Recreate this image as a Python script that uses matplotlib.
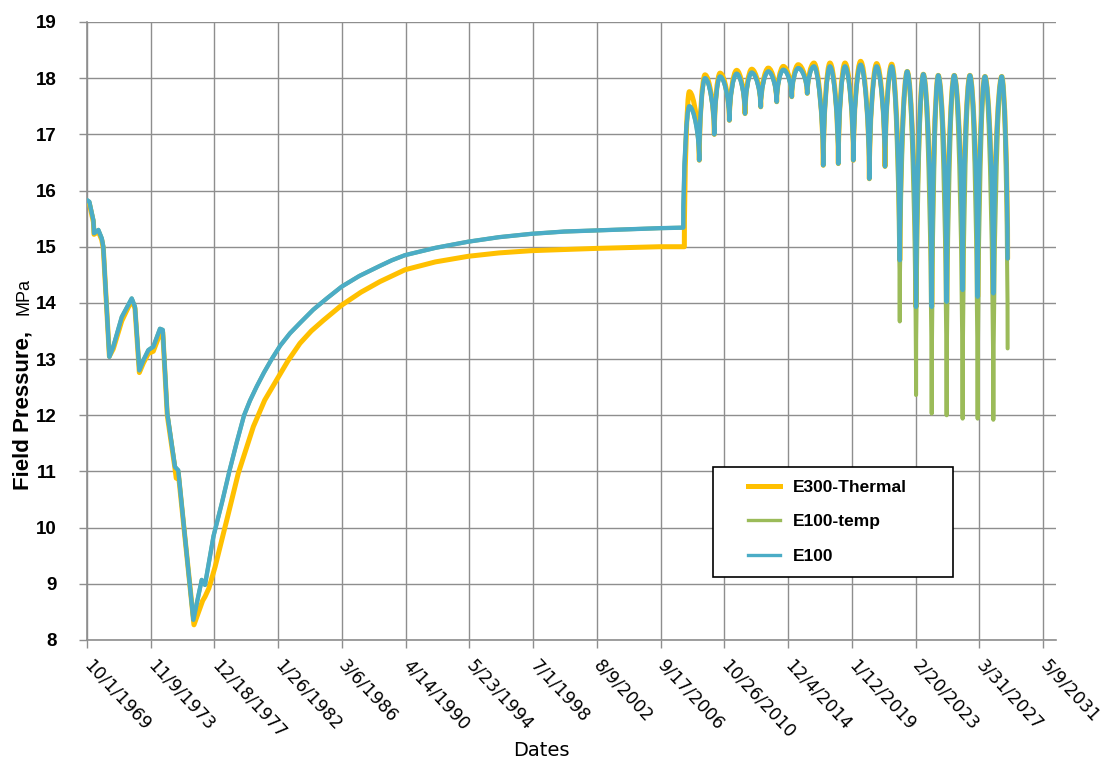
import matplotlib
matplotlib.use("Agg")
import matplotlib.pyplot as plt
import matplotlib.dates as mdates
from matplotlib.path import Path
from matplotlib.patches import PathPatch
from matplotlib.lines import Line2D
from matplotlib.legend_handler import HandlerLine2D
from datetime import datetime, timedelta
import pandas as pd

# ---------------- data (decimal years, MPa) ----------------
series_names = ["E300-Thermal", "E100-temp", "E100"]
series_colors = ["#FFC000", "#9BBB59", "#4BACC6"]

# E100 (and E100-temp) history before gas storage
e100_hist_years = [1969.75, 1969.90, 1970.16, 1970.20, 1970.48, 1970.70, 1970.80, 1971.19,
                   1971.44, 1971.99, 1972.63, 1972.84, 1973.12, 1973.38, 1973.70, 1974.02,
                   1974.45, 1974.63, 1974.92, 1975.42, 1975.63, 1976.60, 1977.14, 1977.35,
                   1977.90, 1978.45, 1978.92, 1979.40, 1979.87, 1980.25, 1980.68, 1981.15,
                   1981.65, 1982.20, 1982.83, 1983.50, 1984.33, 1985.20, 1986.16, 1987.30,
                   1988.63, 1989.40, 1990.24, 1992.20, 1994.32, 1996.30, 1998.40, 2000.50,
                   2002.55, 2004.60, 2006.63, 2008.17]
e100_hist = [15.83, 15.80, 15.47, 15.24, 15.30, 15.15, 15.00, 13.04,
             13.22, 13.75, 14.08, 13.93, 12.80, 12.98, 13.16, 13.22,
             13.54, 13.52, 12.04, 11.08, 11.02, 8.36, 9.07, 8.98,
             9.85, 10.45, 11.00, 11.52, 12.00, 12.26, 12.51, 12.76,
             13.00, 13.24, 13.46, 13.65, 13.88, 14.08, 14.29, 14.48,
             14.66, 14.76, 14.85, 14.98, 15.09, 15.17, 15.23, 15.27,
             15.29, 15.31, 15.33, 15.34]

# E300-Thermal history
e300_hist_years = [1969.75, 1969.90, 1970.16, 1970.20, 1970.48, 1970.70, 1970.80, 1971.19,
                   1971.44, 1971.99, 1972.63, 1972.84, 1973.12, 1973.38, 1973.70, 1974.02,
                   1974.45, 1974.63, 1974.92, 1975.42, 1975.50, 1975.63, 1976.64, 1977.20,
                   1977.35, 1977.60, 1978.00, 1978.75, 1979.50, 1980.47, 1981.20, 1981.97,
                   1982.70, 1983.47, 1984.20, 1984.98, 1986.16, 1987.40, 1988.63, 1990.24,
                   1992.20, 1994.32, 1996.30, 1998.40, 2002.55, 2006.63, 2008.24]
e300_hist = [15.80, 15.77, 15.44, 15.22, 15.27, 15.12, 14.97, 13.05,
             13.18, 13.68, 14.05, 13.90, 12.76, 12.93, 13.10, 13.14,
             13.45, 13.48, 12.00, 11.05, 10.88, 10.98, 8.27, 8.70,
             8.77, 8.92, 9.30, 10.13, 10.97, 11.80, 12.27, 12.63,
             12.97, 13.28, 13.50, 13.69, 13.96, 14.19, 14.38, 14.59,
             14.73, 14.83, 14.89, 14.93, 14.97, 15.00, 15.00]

# Storage cycles: yearly peaks and troughs (last trough = end of run)
peak_years = [2008.56, 2009.57, 2010.54, 2011.61, 2012.58, 2013.65, 2014.62, 2015.58,
              2016.59, 2017.62, 2018.59, 2019.60, 2020.63, 2021.60, 2022.60, 2023.64,
              2024.60, 2025.63, 2026.64, 2027.61, 2028.69]
trough_years = [2009.20, 2010.17, 2011.14, 2012.15, 2013.16, 2014.19, 2015.16, 2016.16,
                2017.19, 2018.16, 2019.13, 2020.16, 2021.17, 2022.12, 2023.17, 2024.18,
                2025.14, 2026.17, 2027.14, 2028.15, 2029.07]

e100_peaks = [17.50, 18.00, 18.03, 18.08, 18.10, 18.12, 18.15, 18.18,
              18.21, 18.21, 18.21, 18.24, 18.21, 18.21, 18.12, 18.07,
              18.05, 18.05, 18.05, 18.03, 18.03]
e100_troughs = [16.54, 17.00, 17.25, 17.37, 17.49, 17.58, 17.67, 17.73,
                16.45, 16.48, 16.54, 16.21, 16.43, 14.76, 13.93, 13.93,
                14.02, 14.23, 14.11, 14.17, 14.79]
e100temp_troughs = [16.54, 17.00, 17.25, 17.37, 17.49, 17.58, 17.67, 17.73,
                    16.45, 16.48, 16.54, 16.21, 16.43, 13.67, 12.36, 12.03,
                    12.00, 11.94, 11.94, 11.92, 13.19]
e300_peaks = [17.76, 18.06, 18.09, 18.14, 18.16, 18.18, 18.21, 18.24,
              18.27, 18.27, 18.27, 18.30, 18.26, 18.25, 18.12, 18.07,
              18.05, 18.05, 18.05, 18.03, 18.03]
e300_troughs = [16.54, 17.00, 17.25, 17.37, 17.49, 17.58, 17.67, 17.73,
                16.45, 16.48, 16.54, 16.21, 16.43, 14.76, 13.93, 13.93,
                14.02, 14.23, 14.11, 14.17, 14.79]

tick_labels = ["10/1/1969", "11/9/1973", "12/18/1977", "1/26/1982", "3/6/1986",
               "4/14/1990", "5/23/1994", "7/1/1998", "8/9/2002", "9/17/2006",
               "10/26/2010", "12/4/2014", "1/12/2019", "2/20/2023", "3/31/2027",
               "5/9/2031"]
y_ticks = [8, 9, 10, 11, 12, 13, 14, 15, 16, 17, 18, 19]


# ---------------- helpers ----------------
def dnum(y):
    yr = int(y)
    start = datetime(yr, 1, 1)
    ndays = (datetime(yr + 1, 1, 1) - start).days
    return mdates.date2num(start + timedelta(days=(y - yr) * ndays))


SH = 0.45  # shoulder of the smooth cycle curves (cubic Bezier handles)


def series_path(hx, hy, pk_x, pk_y, tr_x, tr_y):
    verts = [(dnum(hx[0]), hy[0])]
    codes = [Path.MOVETO]
    for x, y in zip(hx[1:], hy[1:]):
        verts.append((dnum(x), y))
        codes.append(Path.LINETO)
    ax0, ay0 = dnum(hx[-1]), hy[-1]
    for px, py, tx, ty in zip(pk_x, pk_y, tr_x, tr_y):
        px, tx = dnum(px), dnum(tx)
        # rise: vertical at trough, flat at peak
        verts += [(ax0, ay0 + SH * (py - ay0)), (px - SH * (px - ax0), py), (px, py)]
        codes += [Path.CURVE4] * 3
        # fall: flat at peak, vertical at trough
        verts += [(px + SH * (tx - px), py), (tx, ty + SH * (py - ty)), (tx, ty)]
        codes += [Path.CURVE4] * 3
        ax0, ay0 = tx, ty
    return Path(verts, codes)


# ---------------- figure ----------------
W, H = 1101, 767
fig = plt.figure(figsize=(W / 100, H / 100), dpi=100)
ax = fig.add_axes([87 / W, 1 - 640 / H, (1056 - 87) / W, (640 - 22) / H])

grid_c = "#8e8e8e"
paths = [
    series_path(e300_hist_years, e300_hist, peak_years, e300_peaks, trough_years, e300_troughs),
    series_path(e100_hist_years, e100_hist, peak_years, e100_peaks, trough_years, e100temp_troughs),
    series_path(e100_hist_years, e100_hist, peak_years, e100_peaks, trough_years, e100_troughs),
]
widths = [3.6, 2.9, 3.1]
for p, c, lw in zip(paths, series_colors, widths):
    ax.add_patch(PathPatch(p, facecolor="none", edgecolor=c, lw=lw,
                           joinstyle="round", capstyle="round", zorder=3))

tick_pos = [mdates.date2num(d) for d in pd.to_datetime(tick_labels, format="%m/%d/%Y")]
ax.set_xlim(tick_pos[0], mdates.date2num(datetime(2032, 3, 10)))
ax.set_ylim(8, 19)
ax.set_xticks(tick_pos)
ax.set_xticklabels(tick_labels, fontsize=12.5, family="DejaVu Sans",
                   rotation=-47, ha="left", va="center", rotation_mode="anchor")
ax.set_yticks(y_ticks)
ax.set_yticklabels([str(v) for v in y_ticks], fontsize=13.5, fontweight="bold",
                   family=["Liberation Sans", "DejaVu Sans"])

ax.grid(True, color=grid_c, lw=1.0)
ax.set_axisbelow(True)
for s in ["top", "right"]:
    ax.spines[s].set_visible(False)
for s in ["left", "bottom"]:
    ax.spines[s].set_color(grid_c)
    ax.spines[s].set_linewidth(1.2)
ax.tick_params(axis="both", direction="out", length=6, width=1.0, color=grid_c)
ax.tick_params(axis="y", pad=16)
ax.tick_params(axis="x", pad=10)

# axis titles
fig.text(541 / W, 1 - 751 / H, "Dates", fontsize=14, family="DejaVu Sans",
         ha="center", va="center")
fig.text(29 / W, 1 - 490 / H, "Field Pressure,", rotation=90, rotation_mode="anchor",
         ha="left", va="baseline", fontsize=16, fontweight="bold",
         family=["Liberation Sans", "DejaVu Sans"])
fig.text(29 / W, 1 - 278 / H, "MPa", rotation=90, rotation_mode="anchor",
         ha="right", va="baseline", fontsize=13, family=["Liberation Sans", "DejaVu Sans"])

# legend
handles = [Line2D([], [], color=series_colors[0], lw=3.6),
           Line2D([], [], color=series_colors[1], lw=2.4),
           Line2D([], [], color=series_colors[2], lw=2.4)]
fs = 12.5
leg = ax.legend(handles, series_names, loc="upper left",
                bbox_to_anchor=(713 / W, 0.2, 240 / W, 1 - 467 / H - 0.2),
                bbox_transform=fig.transFigure, mode="expand", borderaxespad=0,
                prop={"family": ["Liberation Sans", "DejaVu Sans"], "weight": "bold", "size": fs},
                frameon=True, fancybox=False, edgecolor="black", framealpha=1,
                borderpad=0.75, labelspacing=1.1, handlelength=3.1, handletextpad=0.75,
                handler_map={Line2D: HandlerLine2D(xpad=1.26)})
leg.get_frame().set_linewidth(1.2)
leg.set_zorder(5)

fig.savefig("out.png", dpi=100, facecolor="white")
